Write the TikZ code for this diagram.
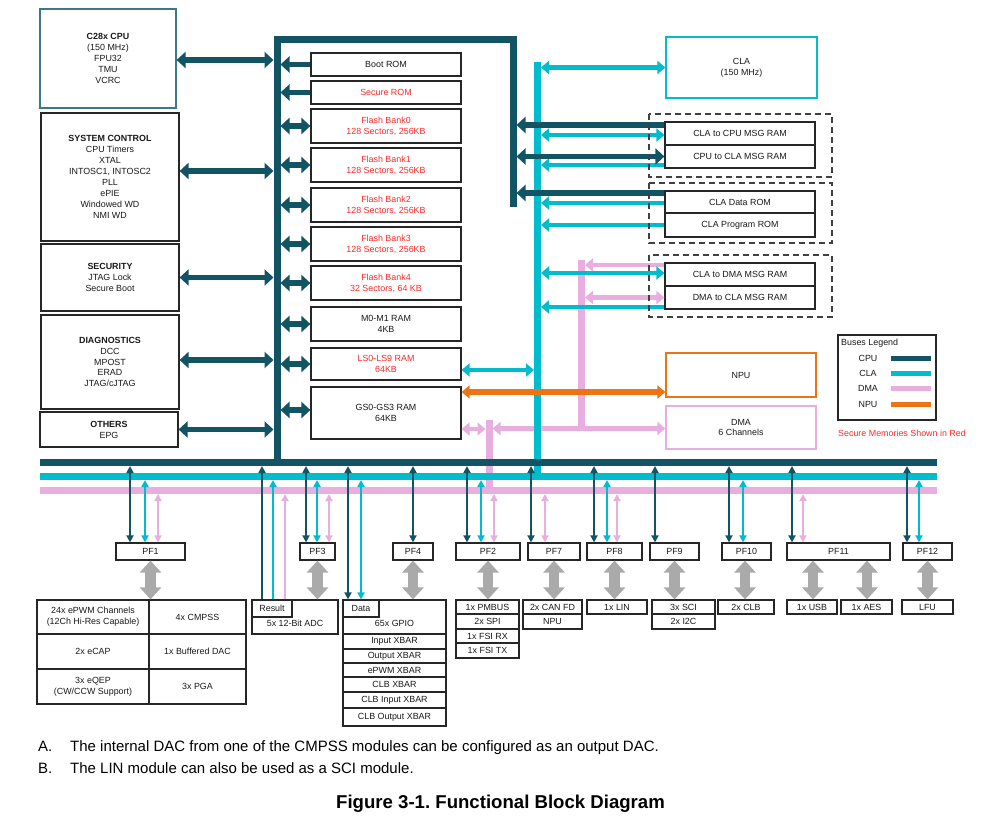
\documentclass[tikz,border=0pt]{standalone}
\usepackage{fontspec}
\setmainfont{Liberation Sans}
\usetikzlibrary{arrows.meta}
\frenchspacing
\definecolor{cpu}{RGB}{18,84,100}
\definecolor{cla}{RGB}{0,188,204}
\definecolor{dma}{RGB}{232,174,224}
\definecolor{npu}{RGB}{236,116,20}
\definecolor{sec}{RGB}{255,40,40}
\definecolor{gar}{RGB}{170,170,170}
\definecolor{cpubox}{RGB}{60,120,135}
\newcommand\fs{\fontsize{8.9}{10.9}\selectfont}
\newcommand\bx[7]{%
 \pgfmathsetmacro\bxw{#4-#2}%
 \pgfmathsetmacro\bxh{#5-#3}%
 \pgfmathsetmacro\bxcx{(#2+#4)/2}%
 \pgfmathsetmacro\bxcy{(#3+#5)/2}%
 \node[box,minimum width=\bxw pt,minimum height=\bxh pt,#6] (#1) at (\bxcx,\bxcy) {#7};}
\newcommand\vtarr[5]{%
 \draw[#5,draw=#3] ([xshift=#2pt]#1.north) -- ([xshift=#2pt]#1.north |- #4);}
\tikzset{
 bigT/.tip={Triangle[width=16pt,length=9pt]},
 midT/.tip={Triangle[width=13pt,length=8pt]},
 thinT/.tip={Triangle[width=7pt,length=7pt]},
 grT/.tip={Triangle[width=21pt,length=12pt]},
 box/.style={draw=black!85,line width=1.2pt,inner sep=0pt,align=center,font=\fs,text=black!90},
 lbl/.style={inner sep=0pt,font=\fs,text=black!90},
 cpuD/.style={draw=cpu,line width=5.5pt,arrows={bigT-bigT}},
 cpuS/.style={draw=cpu,line width=5.5pt,arrows={-bigT}},
 claD/.style={draw=cla,line width=4.5pt,arrows={midT-midT}},
 claS/.style={draw=cla,line width=4.5pt,arrows={-midT}},
 dmaD/.style={draw=dma,line width=4.5pt,arrows={midT-midT}},
 dmaS/.style={draw=dma,line width=4.5pt,arrows={-midT}},
 npuD/.style={draw=npu,line width=5.5pt,arrows={midT-midT}},
 thinD/.style={line width=1.8pt,arrows={thinT-thinT}},
 thinU/.style={line width=1.8pt,arrows={-thinT}},
 grayD/.style={draw=gar,line width=10.5pt,arrows={grT-grT}},
 bus/.style={line width=7pt,miter limit=10},
 dashbox/.style={draw=black!75,line width=1.3pt,dash pattern=on 6pt off 4pt},
 note/.style={inner sep=0pt,anchor=base west,font=\fontsize{15}{18}\selectfont},
}
\begin{document}
\begin{tikzpicture}[x=1pt,y=-1pt]
\useasboundingbox (0,0) rectangle (1006,830);
% ---------- left boxes
\bx{cpu28}{40}{9}{176}{108}{draw=cpubox}{\textbf{C28x CPU}\\(150 MHz)\\FPU32\\TMU\\VCRC}
\bx{sysc}{41}{113}{179}{241}{}{\textbf{SYSTEM CONTROL}\\CPU Timers\\XTAL\\INTOSC1, INTOSC2\\PLL\\ePIE\\Windowed WD\\NMI WD}
\bx{secu}{41}{244}{179}{311}{}{\textbf{SECURITY}\\JTAG Lock\\Secure Boot}
\bx{diag}{41}{315}{179}{409}{}{\textbf{DIAGNOSTICS}\\DCC\\MPOST\\ERAD\\JTAG/cJTAG}
\bx{oth}{40}{412}{178}{447}{}{\textbf{OTHERS}\\EPG}
% ---------- memories
\bx{boot}{311}{53}{461}{76}{}{Boot ROM}
\bx{srom}{311}{81}{461}{104}{text=sec}{Secure ROM}
\bx{fb0}{311}{109}{461}{143}{text=sec}{Flash Bank0\\128 Sectors, 256KB}
\bx{fb1}{311}{148}{461}{182}{text=sec}{Flash Bank1\\128 Sectors, 256KB}
\bx{fb2}{311}{188}{461}{222}{text=sec}{Flash Bank2\\128 Sectors, 256KB}
\bx{fb3}{311}{227}{461}{261}{text=sec}{Flash Bank3\\128 Sectors, 256KB}
\bx{fb4}{311}{266}{461}{300}{text=sec}{Flash Bank4\\32 Sectors, 64 KB}
\bx{m01}{311}{307}{461}{341}{}{M0-M1 RAM\\4KB}
\bx{ls}{311}{348}{461}{380}{text=sec}{LS0-LS9 RAM\\64KB}
\bx{gs}{311}{387}{461}{439}{}{GS0-GS3 RAM\\64KB}
% ---------- CLA side
\bx{cla}{666}{37}{817}{98}{draw=cla}{CLA\\(150 MHz)}
\bx{c2c}{665}{122}{815}{145}{}{CLA to CPU MSG RAM}
\bx{cp2c}{665}{145}{815}{168}{}{CPU to CLA MSG RAM}
\bx{cdr}{665}{191}{815}{213}{}{CLA Data ROM}
\bx{cpr}{665}{213}{815}{237}{}{CLA Program ROM}
\bx{c2d}{665}{263}{815}{286}{}{CLA to DMA MSG RAM}
\bx{d2c}{665}{286}{815}{309}{}{DMA to CLA MSG RAM}
\bx{npu}{666}{353}{816}{397}{draw=npu}{NPU}
\bx{dma}{666}{406}{816}{449}{draw=dma}{DMA\\6 Channels}
% ---------- PF boxes
\bx{pf1}{116}{543}{185}{560}{}{PF1}
\bx{pf3}{300}{543}{335}{560}{}{PF3}
\bx{pf4}{393}{543}{433}{560}{}{PF4}
\bx{pf2}{456}{543}{520}{560}{}{PF2}
\bx{pf7}{528}{543}{580}{560}{}{PF7}
\bx{pf8}{587}{543}{642}{560}{}{PF8}
\bx{pf9}{650}{543}{699}{560}{}{PF9}
\bx{pf10}{722}{543}{771}{560}{}{PF10}
\bx{pf11}{787}{543}{890}{560}{}{PF11}
\bx{pf12}{903}{543}{952}{560}{}{PF12}
% ---------- peripherals
\bx{epwm}{37}{600}{149}{634}{}{24x ePWM Channels\\(12Ch Hi-Res Capable)}
\bx{cmpss}{149}{600}{246}{634}{}{4x CMPSS}
\bx{ecap}{37}{634}{149}{669}{}{2x eCAP}
\bx{bdac}{149}{634}{246}{669}{}{1x Buffered DAC}
\bx{eqep}{37}{669}{149}{704}{}{3x eQEP\\(CW/CCW Support)}
\bx{pga}{149}{669}{246}{704}{}{3x PGA}
\bx{adc}{252}{600}{338}{634}{}{}
\node[lbl] (adclbl) at (295,623) {5x 12-Bit ADC};
\bx{result}{252}{600}{292}{617}{}{Result}
\bx{gpio}{343}{600}{446}{634}{}{}
\node[lbl] (gpiolbl) at (394.5,623) {65x GPIO};
\bx{data}{343}{600}{379}{617}{}{Data}
\bx{ixb}{343}{634}{446}{649}{}{Input XBAR}
\bx{oxb}{343}{649}{446}{663}{}{Output XBAR}
\bx{pxb}{343}{663}{446}{677}{}{ePWM XBAR}
\bx{cxb}{343}{677}{446}{692}{}{CLB XBAR}
\bx{cixb}{343}{692}{446}{708}{}{CLB Input XBAR}
\bx{coxb}{343}{708}{446}{726}{}{CLB Output XBAR}
\bx{pmbus}{456}{600}{519}{614}{}{1x PMBUS}
\bx{spi}{456}{614}{519}{629}{}{2x SPI}
\bx{fsirx}{456}{629}{519}{643}{}{1x FSI RX}
\bx{fsitx}{456}{643}{519}{658}{}{1x FSI TX}
\bx{can}{523}{600}{582}{614}{}{2x CAN FD}
\bx{npum}{523}{614}{582}{629}{}{NPU}
\bx{lin}{587}{600}{647}{614}{}{1x LIN}
\bx{sci}{652}{600}{715}{614}{}{3x SCI}
\bx{i2c}{652}{614}{715}{629}{}{2x I2C}
\bx{clb}{718}{600}{774}{614}{}{2x CLB}
\bx{usb}{787}{600}{837}{614}{}{1x USB}
\bx{aes}{841}{600}{892}{614}{}{1x AES}
\bx{lfu}{902}{600}{953}{614}{}{LFU}
% ---------- coordinates on buses
\coordinate (dkB) at (0,466);
\coordinate (cyB) at (0,480);
\coordinate (pkB) at (0,494);
\coordinate (cpuLe) at (273.5,0);
\coordinate (cpuRe) at (280.5,0);
\coordinate (cpuRRe) at (516.5,0);
\coordinate (claLe) at (534,0);
\coordinate (claRe) at (541,0);
\coordinate (dmaRe) at (585,0);
\coordinate (stubL) at (485.5,0);
\coordinate (stubR) at (492.5,0);
% ---------- DMA (pink)
\draw[bus,draw=dma] (581.5,260) -- (581.5,428.5);
\draw[bus,draw=dma] (489,420) -- (489,490.5);
\draw[bus,draw=dma] (40,490.5) -- (937,490.5);
\draw[dmaS] ([yshift=9.5pt]c2d.west) -- ([yshift=9.5pt]c2d.west -| dmaRe);
\draw[dmaD] (d2c.west) -- (d2c.west -| dmaRe);
\draw[dmaD] ([yshift=-16pt]gs.east) -- ([yshift=-16pt]gs.east -| stubL);
\draw[dmaD] ([yshift=-1pt]dma.west) -- ([yshift=-1pt]dma.west -| stubR);
\vtarr{pf1}{7.5}{dma}{pkB}{thinD}
\vtarr{pf3}{11.5}{dma}{pkB}{thinD}
\vtarr{pf2}{6}{dma}{pkB}{thinD}
\vtarr{pf7}{-9}{dma}{pkB}{thinD}
\vtarr{pf8}{2.5}{dma}{pkB}{thinD}
\vtarr{pf11}{-35.5}{dma}{pkB}{thinD}
\vtarr{result}{13}{dma}{pkB}{thinU}
% ---------- CLA (cyan)
\draw[bus,draw=cla] (537.5,62) -- (537.5,476.5);
\draw[bus,draw=cla] (40,476.5) -- (937,476.5);
\draw[claD] (cla.west) -- (cla.west -| claRe);
\draw[claD] ([yshift=-1.5pt]c2c.west) -- ([yshift=-1.5pt]c2c.west -| claRe);
\draw[claS] ([yshift=-8.5pt]cp2c.west) -- ([yshift=-8.5pt]cp2c.west -| claRe);
\draw[claS] ([yshift=-1pt]cdr.west) -- ([yshift=-1pt]cdr.west -| claRe);
\draw[claS] (cpr.west) -- (cpr.west -| claRe);
\draw[claD] ([yshift=1.5pt]c2d.west) -- ([yshift=1.5pt]c2d.west -| claRe);
\draw[claS] ([yshift=-9.5pt]d2c.west) -- ([yshift=-9.5pt]d2c.west -| claRe);
\draw[claD] ([yshift=-6pt]ls.east) -- ([yshift=-6pt]ls.east -| claLe);
\vtarr{pf1}{-5.5}{cla}{cyB}{thinD}
\vtarr{pf3}{-0.5}{cla}{cyB}{thinD}
\vtarr{pf2}{-7}{cla}{cyB}{thinD}
\vtarr{pf8}{-7.5}{cla}{cyB}{thinD}
\vtarr{pf10}{-3.5}{cla}{cyB}{thinD}
\vtarr{pf12}{-8.5}{cla}{cyB}{thinD}
\vtarr{result}{1}{cla}{cyB}{thinU}
\vtarr{data}{0}{cla}{cyB}{thinD}
% ---------- NPU (orange)
\draw[npuD] ([yshift=21pt]gs.east) -- ([yshift=21pt]gs.east -| npu.west);
% ---------- CPU (dark)
\draw[bus,draw=cpu] (277,462.5) -- (277,39.5) -- (513,39.5) -- (513,207);
\draw[bus,draw=cpu] (40,462.5) -- (937,462.5);
\draw[cpuD] ([yshift=-1.5pt]cpu28.east) -- ([yshift=-1.5pt]cpu28.east -| cpuLe);
\draw[cpuD] ([yshift=6pt]sysc.east) -- ([yshift=6pt]sysc.east -| cpuLe);
\draw[cpuD] (secu.east) -- (secu.east -| cpuLe);
\draw[cpuD] ([yshift=2pt]diag.east) -- ([yshift=2pt]diag.east -| cpuLe);
\draw[cpuD] (oth.east) -- (oth.east -| cpuLe);
\draw[cpuS] (boot.west) -- (boot.west -| cpuRe);
\draw[cpuS] (srom.west) -- (srom.west -| cpuRe);
\foreach \n in {fb0,fb1,fb2,fb3,fb4,m01,ls}
  \draw[cpuD] (\n.west) -- (\n.west -| cpuRe);
\draw[cpuD] ([yshift=3pt]gs.west) -- ([yshift=3pt]gs.west -| cpuRe);
\draw[cpuS] ([yshift=8.5pt]c2c.west) -- ([yshift=8.5pt]c2c.west -| cpuRRe);
\draw[cpuD] (cp2c.west) -- (cp2c.west -| cpuRRe);
\draw[cpuS] ([yshift=9pt]cdr.west) -- ([yshift=9pt]cdr.west -| cpuRRe);
\vtarr{pf1}{-20.5}{cpu}{dkB}{thinD}
\vtarr{pf3}{-11.5}{cpu}{dkB}{thinD}
\vtarr{pf4}{0}{cpu}{dkB}{thinD}
\vtarr{pf2}{-21}{cpu}{dkB}{thinD}
\vtarr{pf7}{-23}{cpu}{dkB}{thinD}
\vtarr{pf8}{-20.5}{cpu}{dkB}{thinD}
\vtarr{pf9}{-19.5}{cpu}{dkB}{thinD}
\vtarr{pf10}{-17.5}{cpu}{dkB}{thinD}
\vtarr{pf11}{-46.5}{cpu}{dkB}{thinD}
\vtarr{pf12}{-20.5}{cpu}{dkB}{thinD}
\vtarr{result}{-10}{cpu}{dkB}{thinU}
\vtarr{data}{-13}{cpu}{dkB}{thinD}
% ---------- gray peripheral arrows
\draw[grayD] (pf1.south) -- (pf1.south |- epwm.north);
\draw[grayD] (pf3.south) -- (pf3.south |- adc.north);
\draw[grayD] (pf4.south) -- (pf4.south |- gpio.north);
\draw[grayD] (pf2.south) -- (pf2.south |- pmbus.north);
\draw[grayD] (pf7.south) -- (pf7.south |- can.north);
\draw[grayD] (pf8.south) -- (pf8.south |- lin.north);
\draw[grayD] (pf9.south) -- (pf9.south |- sci.north);
\draw[grayD] ([xshift=-1.5pt]pf10.south) -- ([xshift=-1.5pt]pf10.south |- clb.north);
\draw[grayD] ([xshift=-25.5pt]pf11.south) -- ([xshift=-25.5pt]pf11.south |- usb.north);
\draw[grayD] ([xshift=28.5pt]pf11.south) -- ([xshift=28.5pt]pf11.south |- aes.north);
\draw[grayD] (pf12.south) -- (pf12.south |- lfu.north);
% ---------- dashed groups
\draw[dashbox] (649,114) rectangle (832,177);
\draw[dashbox] (649,183) rectangle (832,243);
\draw[dashbox] (649,255) rectangle (832,317);
% ---------- legend
\bx{legend}{838}{335}{936}{420}{}{}
\node[lbl,anchor=west] (legt) at (841,343) {Buses Legend};
\node[lbl] (lcpu) at (868,358) {CPU};
\node[lbl] (lcla) at (868,373) {CLA};
\node[lbl] (ldma) at (868,388.5) {DMA};
\node[lbl] (lnpu) at (868,404) {NPU};
\draw[cpu,line width=5pt] (891,358) -- (931,358);
\draw[cla,line width=5pt] (891,373) -- (931,373);
\draw[dma,line width=5pt] (891,388.5) -- (931,388.5);
\draw[npu,line width=5pt] (891,404) -- (931,404);
\node[lbl,text=sec] (secnote) at (902,433) {Secure Memories Shown in Red};
% ---------- notes and caption
\node[note] (na) at (38,751) {A.};
\node[note] (nat) at (70,751) {The internal DAC from one of the CMPSS modules can be configured as an output DAC.};
\node[note] (nb) at (38,773) {B.};
\node[note] (nbt) at (70,773) {The LIN module can also be used as a SCI module.};
\node[inner sep=0pt,anchor=base,font=\fontsize{18.6}{22}\selectfont\bfseries] (cap) at (500.5,808.5) {Figure 3-1. Functional Block Diagram};
\end{tikzpicture}
\end{document}
